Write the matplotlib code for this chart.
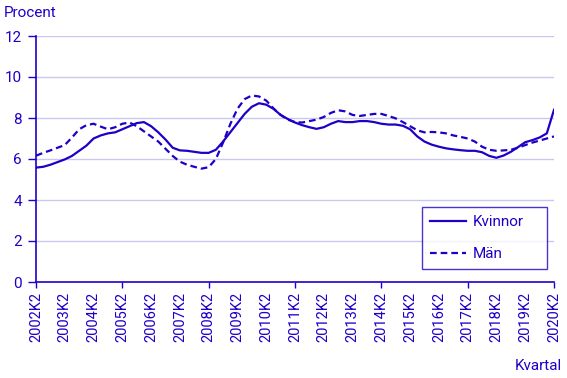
import matplotlib
matplotlib.use("Agg")
import matplotlib.pyplot as plt
from matplotlib.ticker import FixedLocator

years = list(range(2002, 2021))
quarters = [f"{y}K{q}" for y in range(2002, 2021) for q in (1, 2, 3, 4)]
quarters = quarters[1:quarters.index("2020K2") + 1]

kvinnor = [5.58, 5.62, 5.72, 5.85, 5.98, 6.15, 6.4, 6.65, 7.0, 7.15, 7.25, 7.3,
           7.45, 7.6, 7.75, 7.8, 7.6, 7.3, 6.95, 6.55, 6.42, 6.4, 6.35, 6.3,
           6.3, 6.45, 6.85, 7.3, 7.75, 8.2, 8.55, 8.72, 8.65, 8.45, 8.15, 7.95,
           7.78, 7.65, 7.55, 7.47, 7.55, 7.72, 7.85, 7.8, 7.8, 7.85, 7.85, 7.8,
           7.72, 7.68, 7.68, 7.62, 7.45, 7.1, 6.85, 6.7, 6.6, 6.52, 6.47, 6.43,
           6.4, 6.4, 6.33, 6.15, 6.06, 6.17, 6.35, 6.58, 6.82, 6.92, 7.05, 7.25,
           8.4]
man = [6.16, 6.3, 6.42, 6.55, 6.68, 7.05, 7.45, 7.65, 7.72, 7.58, 7.45, 7.55,
       7.72, 7.78, 7.6, 7.35, 7.1, 6.85, 6.5, 6.15, 5.87, 5.72, 5.62, 5.53,
       5.6, 6.0, 6.8, 7.7, 8.45, 8.92, 9.1, 9.05, 8.85, 8.47, 8.15, 7.92,
       7.8, 7.78, 7.85, 7.92, 8.05, 8.25, 8.38, 8.32, 8.15, 8.1, 8.15, 8.2,
       8.2, 8.1, 7.98, 7.8, 7.6, 7.4, 7.3, 7.32, 7.3, 7.25, 7.15, 7.08,
       7.0, 6.85, 6.6, 6.45, 6.4, 6.42, 6.45, 6.55, 6.68, 6.8, 6.9, 7.0,
       7.1]
series_labels = ["Kvinnor", "Män"]
yticks = [0, 2, 4, 6, 8, 10, 12]

blue = "#1e00c8"
grid = "#c8c8f0"
plt.rcParams['font.family'] = ['Roboto', 'DejaVu Sans']

fig = plt.figure(figsize=(5.67, 3.78), dpi=100)
ax = fig.add_axes([36/567, 1-282/378, 518/567, 246/378])

x = list(range(len(quarters)))
ax.plot(x, kvinnor, color=blue, lw=1.6, label=series_labels[0])
ax.plot(x, man, color=blue, lw=1.6, ls=(0, (3, 1.8)), label=series_labels[1])

ax.set_xlim(0, len(quarters) - 1)
ax.set_ylim(0, 12)
ax.set_yticks(yticks)
ax.yaxis.grid(True, color=grid, lw=1)
ax.set_axisbelow(True)

lab_pos = [i for i, q in enumerate(quarters) if q.endswith("K2")]
ax.set_xticks(lab_pos)
ax.set_xticklabels([quarters[i] for i in lab_pos], rotation=90)
ax.xaxis.set_minor_locator(FixedLocator(lab_pos[::3]))
ax.xaxis.remove_overlapping_locs = False
ax.tick_params(axis='x', which='major', length=0, pad=7, labelsize=10.5, labelcolor=blue)
ax.tick_params(axis='x', which='minor', length=4, width=1, color=blue)
ax.tick_params(axis='y', length=6, width=1, color=blue, labelsize=11, labelcolor=blue, pad=4)

for s in ['top', 'right']:
    ax.spines[s].set_visible(False)
for s in ['left', 'bottom']:
    ax.spines[s].set_color(blue)
    ax.spines[s].set_linewidth(1.2)

fig.text(4/567, 1-13/378, "Procent", color=blue, fontsize=11, va='center', ha='left')
fig.text(562/567, 1-366/378, "Kvartal", color=blue, fontsize=11, va='center', ha='right')

leg = ax.legend(loc='lower left', bbox_to_anchor=(0.745, 0.053, 0.241, 0.24), mode='expand',
                fancybox=False, frameon=True, handlelength=2.4, fontsize=11,
                labelspacing=1.2, borderpad=0.5, handletextpad=0.4, borderaxespad=0)
leg.get_frame().set_edgecolor(blue)
leg.get_frame().set_linewidth(1)
for t in leg.get_texts():
    t.set_color(blue)

fig.savefig("out.png", dpi=100)
